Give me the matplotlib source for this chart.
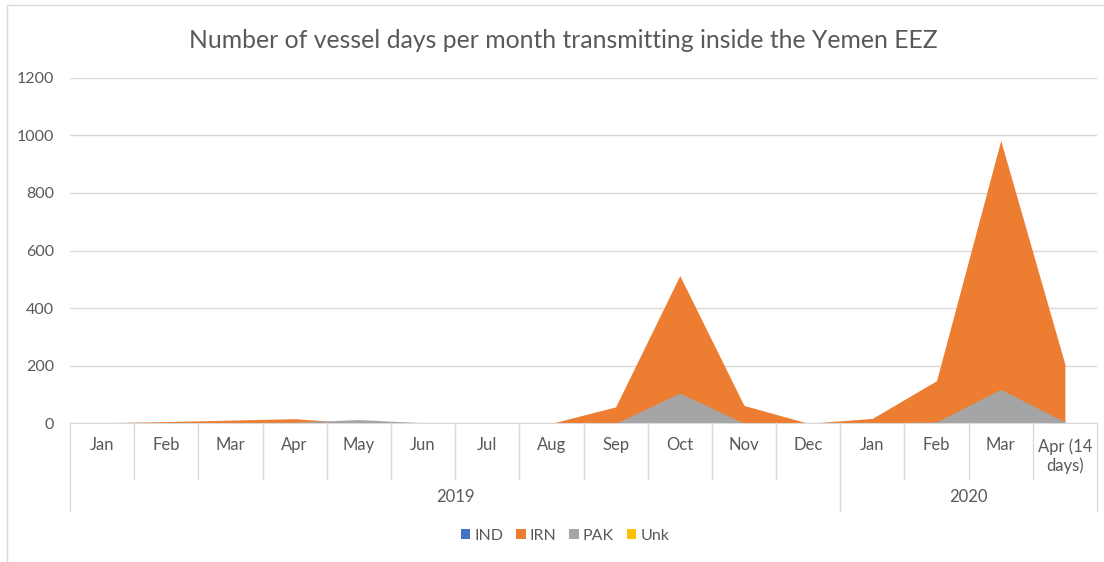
import matplotlib
matplotlib.use("Agg")
import matplotlib.pyplot as plt
from matplotlib.patches import Patch
from matplotlib.lines import Line2D
import numpy as np

months = ["Jan", "Feb", "Mar", "Apr", "May", "Jun", "Jul", "Aug", "Sep", "Oct",
          "Nov", "Dec", "Jan", "Feb", "Mar", "Apr (14\ndays)"]
years = ["2019", "2020"]
year_counts = [12, 4]
series_names = ["IND", "IRN", "PAK", "Unk"]
ind = [0, 0, 0, 0, 0, 0, 0, 0, 0, 0, 0, 0, 0, 0, 0, 0]
irn = [2, 6, 11, 16, 0, 0, 0, 0, 57, 513, 62, 0, 17, 148, 982, 205]
pak = [0, 0, 1, 4, 13, 2, 0, 0, 0, 105, 0, 0, 0, 5, 118, 5]
unk = [0, 0, 0, 0, 0, 0, 0, 0, 0, 0, 0, 0, 0, 0, 0, 0]
colors = ["#4472C4", "#ED7D31", "#A5A5A5", "#FFC000"]

plt.rcParams['font.family'] = ['Lato', 'DejaVu Sans']
txt = "#595959"
grid = "#D9D9D9"

W, H = 1104, 562
fig = plt.figure(figsize=(W / 100, H / 100), dpi=100)
x0, x1 = 70, 1097
y0, y1 = 423.3, 77.7
ax = fig.add_axes([x0 / W, 1 - y0 / H, (x1 - x0) / W, (y0 - y1) / H])

n = len(months)
xs = np.arange(n) + 0.5
# standard (overlapping) area chart: later series drawn in front
for vals, c, s in zip([ind, irn, pak, unk], colors, series_names):
    ax.fill_between(xs, 0, vals, color=c, linewidth=0, label=s)
ax.set_xlim(0, n)
ax.set_ylim(0, 1200)
ax.set_yticks(np.arange(0, 1201, 200))
ax.yaxis.grid(True, color=grid, linewidth=1)
ax.set_axisbelow(True)
for s in ["top", "right", "left"]:
    ax.spines[s].set_visible(False)
ax.spines["bottom"].set_color(grid)
ax.tick_params(axis="y", length=0, labelcolor=txt, labelsize=11.5, pad=11.5)
ax.set_xticks([])

# multi-level category axis
axh = y0 - y1
inner = -(479 - y0) / axh
outer = -(511 - y0) / axh
tr = ax.get_xaxis_transform()
boundaries = np.cumsum([0] + year_counts)
for b in range(n + 1):
    yb = outer if b in boundaries else inner
    ax.add_line(Line2D([b, b], [0, yb], transform=tr, color=grid, lw=1, clip_on=False))
for i, m in enumerate(months):
    va_y = -(445 - y0) / axh if "\n" not in m else -(456 - y0) / axh
    ax.text(i + 0.5, va_y, m, transform=tr, ha="center", va="center",
            color=txt, fontsize=12, linespacing=1.15)
for k, yname in enumerate(years):
    c = (boundaries[k] + boundaries[k + 1]) / 2
    ax.text(c, -(497 - y0) / axh, yname, transform=tr, ha="center", va="center",
            color=txt, fontsize=12)

fig.text(563 / W, 1 - 41 / H, "Number of vessel days per month transmitting inside the Yemen EEZ",
         ha="center", va="center", color=txt, fontsize=17.8)

handles = [Patch(facecolor=c, edgecolor="none", label=s) for c, s in zip(colors, series_names)]
fig.legend(handles=handles, loc="center", bbox_to_anchor=(565 / W, 1 - 536 / H), ncol=4,
           frameon=False, handlelength=0.6, handleheight=0.6, handletextpad=0.25,
           columnspacing=0.8, labelcolor=txt, fontsize=11.5)

# chart border
fig.add_artist(Line2D([7 / W, 7 / W, 1103 / W], [0, 1 - 5 / H, 1 - 5 / H],
                      transform=fig.transFigure, color=grid, lw=1))

fig.savefig("out.png", dpi=100)
